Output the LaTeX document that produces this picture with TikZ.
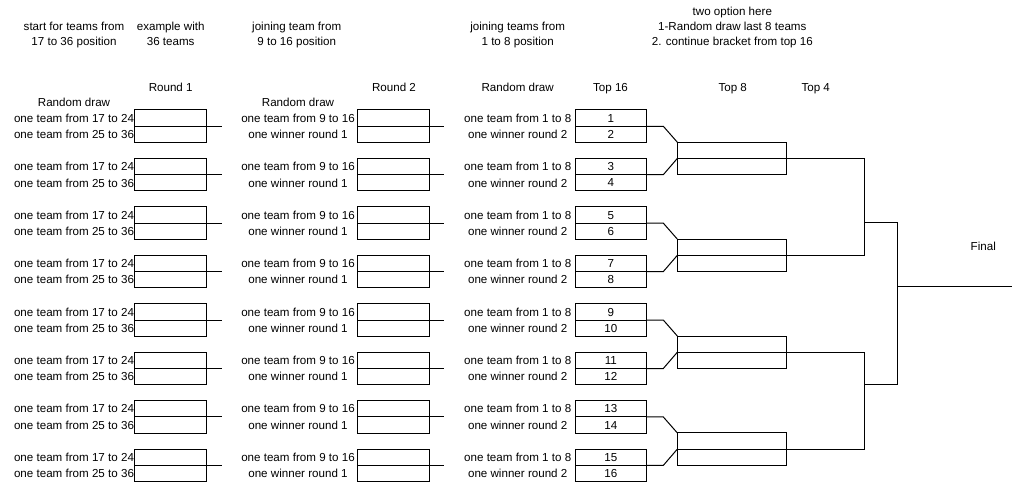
\documentclass[tikz,border=0pt]{standalone}
\usepackage{fontspec}
\setmainfont{Liberation Sans}
\begin{document}
\begin{tikzpicture}[x=1pt,y=-1pt,line width=1pt,
  every node/.style={font=\fontsize{11.6}{13}\selectfont,inner sep=0pt,outer sep=0pt,text height=8.3pt,text depth=0pt},
  cell/.style={draw,line width=1pt,minimum height=16.25pt,anchor=north west},
  cellA/.style={cell,minimum width=72pt},
  cellB/.style={cell,minimum width=71.7pt},
  cellC/.style={cell,minimum width=70.3pt},
  cellD/.style={cell,minimum width=108.7pt},
  lbl/.style={anchor=center}]
\useasboundingbox (0,0) rectangle (1024,492);

% headers
\node[lbl] (h1a) at (74,26.7) {start for teams from};
\node[lbl] (h1b) at (74,41.7) {17 to 36 position};
\node[lbl] (h2a) at (170.7,26.7) {example with};
\node[lbl] (h2b) at (170.7,41.7) {36 teams};
\node[lbl] (h3a) at (296.7,26.7) {joining team from};
\node[lbl] (h3b) at (296.7,41.7) {9 to 16 position};
\node[lbl] (h4a) at (517.7,26.7) {joining teams from};
\node[lbl] (h4b) at (517.7,41.7) {1 to 8 position};
\node[lbl] (h5a) at (732.3,11.7) {two option here};
\node[lbl] (h5b) at (732.3,26.5) {1-Random draw last 8 teams};
\node[lbl] (h5c) at (732.3,41.7) {2. continue bracket from top 16};

% column titles
\node[lbl] (cr1) at (170.7,87.7) {Round 1};
\node[lbl] (cr2) at (394,87.7) {Round 2};
\node[lbl] (crd) at (517.7,87.7) {Random draw};
\node[lbl] (c16) at (610.5,87.7) {Top 16};
\node[lbl] (c8) at (732.7,87.7) {Top 8};
\node[lbl] (c4) at (815.7,87.7) {Top 4};
\node[lbl] (rd1) at (74,102.7) {Random draw};
\node[lbl] (rd2) at (298,102.7) {Random draw};
\node[lbl] (fnl) at (983.3,246.7) {Final};

\foreach \i in {0,...,7}{
  \pgfmathsetmacro\T{110+48.45*\i}
  \pgfmathtruncatemacro\na{2*\i+1}
  \pgfmathtruncatemacro\nb{2*\i+2}
  % round 1
  \node[cellA] (r1a-\i) at (134.7,\T) {};
  \node[cellA] (r1b-\i) at (134.7,\T+16.25) {};
  \coordinate (r1e-\i) at (221.7,\T+16.25);
  \draw (r1a-\i.south east) -- (r1e-\i);
  \node[lbl] (l1a-\i) at (74,\T+8.1) {one team from 17 to 24};
  \node[lbl] (l1b-\i) at (74,\T+24.4) {one team from 25 to 36};
  % round 2
  \node[cellB] (r2a-\i) at (357.3,\T) {};
  \node[cellB] (r2b-\i) at (357.3,\T+16.25) {};
  \coordinate (r2e-\i) at (444.3,\T+16.25);
  \draw (r2a-\i.south east) -- (r2e-\i);
  \node[lbl] (l2a-\i) at (298,\T+8.1) {one team from 9 to 16};
  \node[lbl] (l2b-\i) at (298,\T+24.4) {one winner round 1};
  % top 16
  \node[cellC] (n\na) at (575.7,\T) {\na};
  \node[cellC] (n\nb) at (575.7,\T+16.25) {\nb};
  \node[lbl] (l3a-\i) at (517.7,\T+8.1) {one team from 1 to 8};
  \node[lbl] (l3b-\i) at (517.7,\T+24.4) {one winner round 2};
}

% top 8
\foreach \k in {0,...,3}{
  \pgfmathsetmacro\M{110+48.45*(2*\k+1)}
  \pgfmathtruncatemacro\p{4*\k+1}
  \pgfmathtruncatemacro\q{4*\k+3}
  \node[cellD,anchor=south west] (t8a-\k) at (677.3,\M) {};
  \node[cellD] (t8b-\k) at (677.3,\M) {};
  \draw (n\p.south east) -- ++(17.3,0) -- (t8a-\k.north west);
  \draw (n\q.south east) -- ++(17.3,0) -- (t8a-\k.south west);
}

% top 4 and final
\coordinate (s0) at (864,222.7);
\coordinate (s1) at (864,384);
\coordinate (fin) at (897.3,286.7);
\coordinate (fend) at (1012.3,286.7);
\draw (t8a-0.south east) -| (s0) |- (t8a-1.south east);
\draw (t8a-2.south east) -| (s1) |- (t8a-3.south east);
\draw (s0) -| (fin) |- (s1);
\draw (fin) -- (fend);
\end{tikzpicture}
\end{document}
